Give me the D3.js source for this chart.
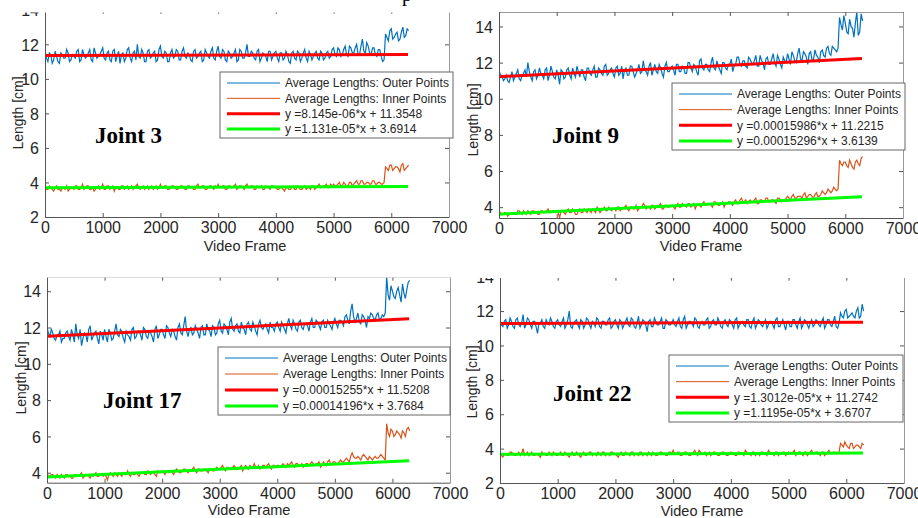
<!DOCTYPE html>
<html>
<head>
<meta charset="utf-8">
<script src="https://cdn.jsdelivr.net/npm/d3@7"></script>
<style>
body{margin:0;background:#fff}
svg{display:block}
</style>
</head>
<body>
<script>
//A arrays: frames 0,50,...,6300   B arrays: frames 25,75,...,6275
var framesA = d3.range(0, 6301, 50);
var framesB = d3.range(25, 6300, 50);

//Joint 3
var j3Outer = [11.7,11.0,11.4,11.1,11.3,10.9,11.4,11.2,11.5,11.1,11.3,11.6,11.0,11.7,11.2,11.5,11.1,11.8,11.2,11.4,
  11.8,11.1,11.6,11.0,11.7,11.3,10.9,11.5,11.2,11.8,11.0,11.6,12.0,11.2,11.5,11.0,11.7,11.3,11.6,11.1,
  11.9,11.2,11.5,11.0,11.7,11.3,11.6,11.1,11.8,11.2,11.4,11.0,11.7,11.3,11.6,11.1,11.5,11.2,11.8,11.1,
  11.9,11.2,11.6,11.0,11.5,11.3,11.7,11.1,11.6,11.2,12.0,11.3,11.5,11.1,11.7,11.2,11.4,11.0,11.6,11.3,
  11.6,11.0,11.5,11.2,11.4,10.9,11.6,11.1,11.5,11.2,11.7,11.0,11.4,11.3,11.6,11.1,11.5,11.2,11.6,11.3,
  11.8,11.3,11.7,11.4,11.9,11.3,11.8,11.5,12.0,11.4,12.3,11.5,11.9,11.4,11.8,11.3,11.7,11.0,
  12.6,12.2,12.9,12.4,12.7,12.3,13.0,12.5,12.8];
var j3OuterB = [11.2,11.5,10.9,11.6,11.0,11.5,11.2,11.7,11.0,11.4,11.2,11.7,11.1,11.4,11.3,11.7,11.0,11.5,11.3,11.6,
  11.2,11.5,11.1,11.6,11.0,11.6,11.4,11.0,11.7,11.2,11.5,11.1,11.3,11.7,11.0,11.6,11.2,11.5,11.0,11.7,
  11.3,11.6,11.0,11.5,11.2,11.7,11.1,11.6,11.3,11.5,11.1,11.6,11.2,11.5,11.0,11.7,11.3,11.6,11.2,11.6,
  11.3,11.7,11.1,11.6,11.2,11.5,11.0,11.7,11.2,11.5,11.3,11.6,11.2,11.6,11.0,11.5,11.3,11.6,11.1,11.5,
  11.2,11.5,11.1,11.6,11.0,11.5,11.2,11.6,11.0,11.5,11.2,11.6,11.1,11.5,11.2,11.6,11.1,11.5,11.2,11.7,
  11.4,11.8,11.3,11.7,11.4,11.9,11.5,11.8,11.4,11.9,11.6,12.1,11.5,11.8,11.4,11.7,11.3,11.1,
  12.4,12.8,12.3,12.6,12.2,12.7,12.4,12.9];
var j3Inner = [3.9,3.6,3.7,3.5,3.8,3.6,3.7,3.6,3.5,3.7,3.6,3.8,3.6,3.9,3.7,3.8,3.6,3.5,3.7,3.6,
  3.9,3.6,3.8,3.7,3.5,3.7,3.6,3.8,3.7,3.6,3.8,3.7,3.9,3.6,3.8,3.7,3.6,3.8,3.7,3.6,
  3.9,3.7,3.8,3.6,3.8,3.7,3.6,3.8,3.7,3.6,3.8,3.7,3.6,3.9,3.7,3.8,3.6,3.8,3.7,3.8,
  3.9,3.7,3.8,3.6,3.8,3.7,3.9,3.7,3.8,3.6,3.9,3.7,3.8,3.6,3.7,3.8,3.6,3.7,3.6,3.8,
  3.7,3.6,3.7,3.5,3.7,3.6,3.8,3.6,3.7,3.6,3.8,3.7,3.6,3.8,3.7,3.9,3.7,3.8,3.7,3.9,
  3.9,3.8,4.0,3.8,3.9,3.8,4.0,3.9,4.1,3.9,4.1,3.9,4.0,3.9,4.1,3.9,4.0,3.9,
  4.9,4.7,5.0,4.8,4.9,4.6,5.1,4.8,5.0];
var j3InnerB = [3.6,3.8,3.6,3.7,3.6,3.5,3.7,3.8,3.6,3.7,3.8,3.6,3.7,3.6,3.8,3.6,3.7,3.6,3.8,3.7,
  3.6,3.8,3.6,3.8,3.7,3.6,3.8,3.6,3.8,3.7,3.6,3.8,3.7,3.7,3.6,3.8,3.7,3.6,3.8,3.7,
  3.7,3.8,3.6,3.7,3.8,3.6,3.7,3.8,3.6,3.8,3.7,3.6,3.8,3.7,3.8,3.6,3.7,3.8,3.6,3.7,
  3.7,3.8,3.6,3.8,3.7,3.8,3.6,3.8,3.7,3.8,3.7,3.8,3.6,3.8,3.7,3.6,3.8,3.7,3.8,3.7,
  3.6,3.7,3.6,3.7,3.6,3.7,3.6,3.8,3.6,3.7,3.6,3.7,3.8,3.6,3.8,3.7,3.8,3.9,3.7,3.8,
  3.8,3.9,3.8,4.0,3.8,4.0,3.8,4.0,3.9,4.1,3.9,4.0,3.9,4.1,3.9,4.0,3.9,4.0,
  4.8,5.0,4.7,4.9,4.8,5.0,4.7,4.9];

//Joint 9
var j9Outer = [11.6,11.3,11.1,11.0,11.2,11.0,11.4,11.1,11.3,11.6,12.0,11.2,11.5,11.1,11.7,11.3,11.6,11.0,11.8,11.2,
  11.6,10.8,11.5,11.2,11.7,11.1,11.4,11.8,11.2,11.6,11.0,11.7,11.3,11.8,11.2,11.6,11.3,11.9,11.4,11.7,
  11.2,11.8,11.4,11.1,11.7,11.3,11.8,11.2,11.6,11.4,12.1,11.5,11.8,11.3,11.9,11.4,11.7,11.2,12.0,11.5,
  11.8,11.3,11.9,11.5,11.7,11.4,12.0,11.5,11.8,11.3,12.2,11.6,11.9,11.5,12.3,11.6,11.8,11.4,12.0,11.6,
  11.9,11.5,11.9,12.3,11.8,12.1,11.7,12.2,11.9,12.4,11.8,12.1,11.6,12.3,11.9,12.5,11.8,12.2,11.7,12.1,
  12.5,11.9,12.4,12.0,12.8,12.1,12.5,11.9,12.6,12.2,12.4,12.0,12.7,12.3,12.9,12.4,12.8,12.6,
  14.5,13.8,14.2,13.6,14.0,13.4,14.8,13.7,14.3];
var j9OuterB = [11.3,11.0,11.3,10.9,11.5,11.2,11.6,11.0,11.4,11.2,11.5,11.0,11.6,11.3,11.4,11.1,11.7,11.3,11.5,11.1,
  11.3,11.6,11.1,11.6,11.3,11.7,11.2,11.5,11.6,11.2,11.7,11.4,11.6,11.2,11.7,11.4,11.8,11.3,11.6,11.4,
  11.7,11.3,11.8,11.6,11.3,11.8,11.5,11.4,11.9,11.5,11.6,11.3,12.0,11.6,11.5,11.9,11.4,11.8,11.5,11.7,
  11.6,11.9,11.5,11.8,11.4,12.0,11.7,11.9,11.5,12.1,11.7,11.9,11.6,12.0,11.7,12.1,11.6,12.0,11.7,11.9,
  12.2,11.8,12.3,11.9,12.1,11.8,12.3,12.0,12.1,11.8,12.4,12.0,12.2,11.9,12.2,12.0,12.4,11.9,12.3,12.0,
  12.2,12.6,12.1,12.5,12.2,12.6,12.3,12.5,12.1,12.7,12.3,12.6,12.4,12.8,12.5,12.9,12.7,12.8,
  14.1,14.6,13.7,14.4,13.9,14.2,13.5,14.7];
var j9Inner = [3.8,3.6,3.7,3.5,3.6,3.7,3.6,3.8,3.6,3.7,3.8,3.6,3.8,3.7,3.6,3.8,3.7,3.9,3.7,3.8,
  3.8,3.4,3.8,3.6,3.9,3.7,3.8,3.6,3.9,3.7,3.8,3.9,3.7,3.8,4.0,3.7,3.9,3.8,4.0,3.8,
  3.9,4.0,3.8,3.9,4.1,3.8,4.0,3.9,3.8,4.0,4.2,3.9,4.0,4.1,3.9,4.0,4.2,3.9,4.1,4.0,
  4.1,3.9,4.2,4.0,4.1,4.0,4.2,4.1,3.9,4.2,4.0,4.3,4.1,4.2,4.0,4.3,4.1,4.2,4.0,4.2,
  4.3,4.1,4.4,4.2,4.5,4.3,4.2,4.4,4.3,4.5,4.2,4.4,4.3,4.5,4.3,4.4,4.2,4.5,4.3,4.4,
  4.6,4.4,4.7,4.5,4.6,4.5,4.8,4.6,4.7,4.5,4.8,4.6,4.9,4.7,5.0,4.8,5.1,4.9,
  6.6,6.3,6.5,6.2,6.4,6.1,6.6,6.3,6.8];
var j9InnerB = [3.7,3.6,3.7,3.6,3.7,3.6,3.8,3.7,3.8,3.6,3.7,3.8,3.7,3.6,3.8,3.7,3.8,3.7,3.8,3.7,
  3.7,3.8,3.7,3.8,3.7,3.9,3.6,3.8,3.7,3.9,3.7,3.8,3.9,3.7,3.9,3.8,4.0,3.8,3.9,3.9,
  3.8,4.0,3.9,4.0,3.9,4.0,3.9,4.1,3.9,4.0,4.1,4.0,3.9,4.1,4.0,4.1,3.9,4.1,4.0,4.1,
  4.0,4.1,4.0,4.2,4.1,4.2,4.0,4.2,4.1,4.1,4.2,4.1,4.2,4.1,4.3,4.2,4.1,4.3,4.2,4.3,
  4.2,4.3,4.2,4.4,4.3,4.4,4.3,4.3,4.4,4.2,4.4,4.3,4.5,4.3,4.4,4.3,4.5,4.4,4.4,4.5,
  4.5,4.6,4.5,4.6,4.6,4.7,4.5,4.7,4.6,4.7,4.6,4.7,4.8,4.8,4.9,4.9,5.0,5.0,
  6.4,6.5,6.3,6.6,6.2,6.5,6.4,6.7];

//Joint 17
var j17Outer = [12.0,11.5,11.7,11.3,11.6,11.2,11.4,11.8,11.3,11.6,12.2,11.4,11.0,11.7,11.2,12.1,11.5,11.8,11.1,11.6,
  11.9,11.2,11.7,11.4,12.2,11.5,11.8,11.2,11.6,11.3,12.0,11.5,11.8,11.3,11.9,11.4,11.7,11.2,12.1,11.6,
  11.9,11.4,12.0,11.5,11.8,11.3,12.2,11.6,12.6,11.5,12.0,11.7,11.9,11.4,12.1,11.6,11.9,11.5,12.0,11.7,
  12.4,11.7,12.1,11.6,12.5,11.8,12.2,11.7,12.0,11.6,12.3,11.8,12.1,11.6,12.4,11.9,12.2,11.7,12.0,11.8,
  12.3,11.8,12.1,11.7,12.5,11.9,12.2,11.8,12.4,11.9,12.2,11.8,12.5,12.0,12.3,11.9,12.4,12.0,12.2,11.9,
  12.5,12.0,12.4,12.1,12.7,12.2,13.3,12.3,12.8,12.2,12.6,12.0,12.5,12.7,12.4,12.8,12.5,12.6,
  14.8,13.5,14.0,13.6,14.2,13.4,13.9,14.1,14.6];
var j17OuterB = [11.7,11.9,11.4,11.6,11.8,11.4,11.7,11.5,11.9,11.2,11.6,11.9,11.4,11.6,11.9,11.3,11.7,11.4,11.8,11.3,
  11.5,11.9,11.3,11.8,11.6,11.9,11.4,11.8,11.5,11.9,11.4,11.8,11.6,12.0,11.5,11.8,11.5,11.9,11.4,11.9,
  11.6,12.1,11.7,11.9,11.5,12.0,11.7,12.1,11.8,11.9,11.6,12.1,11.7,12.0,11.6,12.2,11.8,12.1,11.6,12.2,
  11.8,12.2,11.9,12.3,11.9,12.1,11.8,12.3,11.9,12.2,11.9,12.3,11.8,12.2,12.0,12.1,11.9,12.3,12.0,12.2,
  12.0,12.3,11.9,12.2,12.1,12.4,11.9,12.3,12.0,12.2,12.1,12.3,12.0,12.4,12.1,12.3,12.0,12.4,12.1,12.3,
  12.2,12.4,12.3,12.6,12.4,12.9,12.6,12.5,12.3,12.7,12.4,12.6,12.8,12.5,12.7,12.4,12.7,12.8,
  13.8,14.3,13.7,14.0,13.8,14.4,13.6,14.5];
var j17Inner = [4.0,3.8,3.9,3.7,3.8,3.9,3.7,3.9,3.8,3.7,3.9,3.8,4.0,3.8,3.9,3.7,3.8,4.0,3.8,3.9,
  3.9,3.6,4.0,3.8,3.9,4.0,3.8,3.9,4.1,3.8,3.9,4.0,3.8,4.0,3.9,4.1,3.9,4.0,3.8,4.0,
  4.1,3.9,4.0,4.1,3.9,4.2,4.0,4.1,4.2,4.0,4.1,4.3,4.0,4.2,4.1,4.2,4.0,4.2,4.1,4.3,
  4.2,4.4,4.1,4.3,4.2,4.4,4.2,4.3,4.1,4.4,4.2,4.3,4.5,4.3,4.2,4.4,4.3,4.5,4.2,4.4,
  4.4,4.3,4.5,4.3,4.4,4.6,4.3,4.5,4.4,4.3,4.5,4.4,4.6,4.4,4.5,4.3,4.6,4.4,4.7,4.5,
  4.6,4.5,4.7,4.6,4.8,4.6,5.1,4.8,4.9,4.7,5.0,4.8,4.9,4.7,4.9,4.8,5.0,4.8,
  6.7,6.0,6.3,6.1,6.2,5.9,6.2,6.4,6.3];
var j17InnerB = [3.8,3.9,3.8,3.9,3.7,3.8,3.9,3.8,3.7,3.9,3.8,3.9,3.7,3.9,3.8,3.9,3.9,3.8,3.9,3.8,
  3.8,3.9,3.9,4.0,3.8,3.9,4.0,3.9,3.9,4.0,3.9,3.9,4.0,4.0,3.9,4.0,4.0,3.9,4.1,4.0,
  4.0,4.1,4.0,4.0,4.1,4.1,4.0,4.2,4.1,4.1,4.2,4.1,4.2,4.1,4.2,4.1,4.2,4.1,4.2,4.2,
  4.3,4.2,4.3,4.2,4.3,4.3,4.2,4.4,4.3,4.3,4.4,4.3,4.3,4.4,4.3,4.4,4.4,4.3,4.4,4.3,
  4.4,4.4,4.4,4.5,4.5,4.4,4.5,4.4,4.5,4.4,4.5,4.5,4.5,4.5,4.6,4.4,4.5,4.6,4.5,4.6,
  4.5,4.6,4.6,4.7,4.7,4.9,4.9,4.8,4.8,4.9,4.9,4.7,4.8,4.8,4.8,4.9,4.9,4.7,
  6.2,6.4,6.0,6.3,6.1,6.3,6.0,6.5];

//Joint 22
var j22Outer = [11.3,11.1,11.5,11.2,11.4,11.0,11.6,11.1,11.8,11.2,11.5,11.0,11.4,10.7,11.3,11.1,11.5,11.2,11.4,11.0,
  11.5,11.1,11.6,11.2,12.0,11.0,11.4,11.2,11.5,11.0,11.6,11.2,11.4,11.1,11.5,11.0,11.4,11.2,11.6,11.1,
  11.5,11.0,11.4,11.2,11.6,11.1,11.5,11.0,11.7,11.2,11.4,10.8,11.5,11.1,11.4,11.2,11.6,11.0,11.4,11.2,
  11.5,11.1,11.6,11.0,11.7,11.2,11.4,11.1,11.5,11.0,11.4,11.2,11.6,11.1,11.5,11.2,11.4,11.0,11.5,11.1,
  11.4,11.0,11.6,11.2,11.4,11.1,11.5,11.0,11.6,11.2,11.4,11.1,11.5,11.2,11.4,11.0,11.6,11.1,11.5,10.9,
  11.4,11.1,11.5,11.0,11.6,11.2,11.4,11.0,11.5,11.2,11.4,11.1,11.6,11.2,11.5,11.1,11.7,11.0,
  11.9,11.6,12.1,11.7,11.9,11.6,12.2,11.7,12.0];
var j22OuterB = [11.2,11.4,11.0,11.6,11.1,11.5,11.2,11.3,11.0,11.6,11.2,11.4,11.1,11.3,11.5,11.0,11.3,11.6,11.1,11.4,
  11.2,11.4,11.0,11.5,11.1,11.3,11.5,11.0,11.4,11.2,11.5,11.0,11.3,11.6,11.1,11.4,11.2,11.5,11.0,11.4,
  11.2,11.5,11.0,11.4,11.2,11.6,11.1,11.3,11.0,11.5,11.2,11.4,11.1,11.6,11.2,11.4,11.0,11.5,11.2,11.3,
  11.2,11.4,11.1,11.5,11.0,11.4,11.3,11.6,11.1,11.3,11.2,11.5,11.0,11.4,11.2,11.6,11.1,11.4,11.2,11.5,
  11.2,11.5,11.0,11.3,11.2,11.5,11.1,11.4,11.0,11.5,11.2,11.3,11.0,11.4,11.2,11.5,11.1,11.3,11.2,11.4,
  11.1,11.5,11.2,11.4,11.0,11.5,11.2,11.3,11.1,11.5,11.2,11.4,11.0,11.5,11.2,11.4,11.1,11.3,
  11.7,12.0,11.6,11.8,11.7,12.0,11.6,12.4];
var j22Inner = [3.8,3.5,3.7,3.6,3.8,3.6,3.7,3.6,4.0,3.7,3.6,3.8,3.6,3.7,3.5,3.7,3.6,3.8,3.6,3.7,
  3.6,3.8,3.6,3.7,3.5,3.8,3.6,3.7,3.5,3.8,3.6,3.8,3.6,3.7,3.8,3.6,3.8,3.7,3.6,3.8,
  3.7,3.5,3.8,3.6,3.7,3.6,3.8,3.7,3.6,3.8,3.7,3.6,3.7,3.8,3.6,3.7,3.8,3.7,3.6,3.8,
  3.9,3.7,3.8,3.6,3.8,3.7,3.6,3.8,3.7,3.9,3.7,3.8,3.7,3.6,3.8,3.7,3.6,3.8,3.7,3.6,
  3.8,3.7,3.6,3.8,3.7,3.9,3.7,3.6,3.8,3.7,3.6,3.8,3.7,3.9,3.7,3.6,3.8,3.7,3.8,3.6,
  3.8,3.7,3.9,3.7,3.8,3.6,3.8,3.7,3.9,3.7,3.8,3.6,3.8,3.7,3.9,3.7,3.8,3.7,
  4.3,4.1,4.2,4.0,4.3,4.1,4.2,4.0,4.2];
var j22InnerB = [3.6,3.7,3.6,3.8,3.7,3.6,3.8,3.7,3.6,3.8,3.7,3.6,3.7,3.6,3.8,3.7,3.6,3.7,3.8,3.6,
  3.7,3.6,3.8,3.6,3.7,3.6,3.8,3.6,3.7,3.6,3.7,3.8,3.7,3.6,3.7,3.8,3.6,3.7,3.8,3.7,
  3.6,3.7,3.6,3.8,3.7,3.8,3.6,3.7,3.8,3.6,3.7,3.8,3.6,3.7,3.6,3.8,3.7,3.6,3.8,3.7,
  3.7,3.8,3.6,3.7,3.8,3.6,3.7,3.9,3.6,3.8,3.7,3.6,3.8,3.7,3.8,3.6,3.7,3.8,3.6,3.7,
  3.7,3.6,3.8,3.7,3.6,3.8,3.7,3.8,3.6,3.7,3.8,3.7,3.6,3.8,3.7,3.8,3.6,3.7,3.8,3.7,
  3.7,3.8,3.6,3.8,3.7,3.8,3.6,3.8,3.7,3.8,3.7,3.8,3.6,3.8,3.7,3.8,3.7,3.8,
  4.2,4.4,4.1,4.3,4.0,4.2,4.1,4.3];

var jointNames = ["Joint 3", "Joint 9", "Joint 17", "Joint 22"];
var outerA = [j3Outer, j9Outer, j17Outer, j22Outer];
var outerB = [j3OuterB, j9OuterB, j17OuterB, j22OuterB];
var innerA = [j3Inner, j9Inner, j17Inner, j22Inner];
var innerB = [j3InnerB, j9InnerB, j17InnerB, j22InnerB];
var slopeOuter = [8.145e-06, 0.00015986, 0.00015255, 1.3012e-05];
var interceptOuter = [11.3548, 11.2215, 11.5208, 11.2742];
var slopeInner = [1.131e-05, 0.00015296, 0.00014196, 1.1195e-05];
var interceptInner = [3.6914, 3.6139, 3.7684, 3.6707];
var fitTextOuter = ["y =8.145e-06*x + 11.3548", "y =0.00015986*x + 11.2215", "y =0.00015255*x + 11.5208", "y =1.3012e-05*x + 11.2742"];
var fitTextInner = ["y =1.131e-05*x + 3.6914", "y =0.00015296*x + 3.6139", "y =0.00014196*x + 3.7684", "y =1.1195e-05*x + 3.6707"];
var legendNames = ["Average Lengths: Outer Points", "Average Lengths: Inner Points"];
var fitFrames = [0, 6290];
var xTicks = [0, 1000, 2000, 3000, 4000, 5000, 6000, 7000];
var yTicks = [2, 4, 6, 8, 10, 12, 14];
var yDomains = [[2, 14], [3.4, 14.8], [3.45, 14.8], [2, 14]];

var colors = {outer: "#0072BD", inner: "#D95319", fitOuter: "#FF0000", fitInner: "#00FF00"};

//put the two samplings back in frame order
function series(a, b){
  var pts = [];
  a.forEach(function(v, k){
    pts.push([framesA[k], v]);
    if (k < b.length) pts.push([framesB[k], b[k]]);
  });
  return pts;
}

//where each subplot sits on the page
var layout = [
  {left: 45, right: 449, top: 9.8, bottom: 217, mask: 12.5,
   leg: {x: 220, y: 72, w: 233, h: 66}, joint: [95, 143], ylab: [18, 113], xlab: [245, 246]},
  {left: 499, right: 903, top: 12, bottom: 218, mask: null,
   leg: {x: 672, y: 83, w: 233, h: 67}, joint: [552, 143], ylab: [473, 120], xlab: [701, 246]},
  {left: 47, right: 450, top: 276.7, bottom: 482.7, mask: 277.5,
   leg: {x: 218, y: 347, w: 232, h: 68}, joint: [103, 408], ylab: [21, 378], xlab: [249, 510]},
  {left: 500, right: 904, top: 276.7, bottom: 483, mask: 278,
   leg: {x: 669, y: 355, w: 234, h: 67}, joint: [553, 401], ylab: [472, 382], xlab: [702, 511]}
];

var svg = d3.select("body").append("svg")
  .attr("width", 918)
  .attr("height", 518)
  .style("font-family", "'Liberation Sans', Arial, sans-serif");

function drawPanel(i){
  var L = layout[i];
  var x = d3.scaleLinear().domain([0, 7000]).range([L.left, L.right]);
  var y = d3.scaleLinear().domain(yDomains[i]).range([L.bottom, L.top]);
  var g = svg.append("g");

  g.append("clipPath").attr("id", "clip" + i)
    .append("rect")
    .attr("x", L.left).attr("y", L.top)
    .attr("width", L.right - L.left).attr("height", L.bottom - L.top);

  var plot = g.append("g").attr("clip-path", "url(#clip" + i + ")");
  var line = d3.line().x(function(d){ return x(d[0]); }).y(function(d){ return y(d[1]); });

  plot.append("path").datum(series(outerA[i], outerB[i]))
    .attr("d", line).attr("fill", "none")
    .attr("stroke", colors.outer).attr("stroke-width", 1.2);
  plot.append("path").datum(series(innerA[i], innerB[i]))
    .attr("d", line).attr("fill", "none")
    .attr("stroke", colors.inner).attr("stroke-width", 1.2);

  //fitted lines from the legend equations
  var fit = function(m, b){
    return d3.line().x(function(f){ return x(f); }).y(function(f){ return y(m * f + b); })(fitFrames);
  };
  plot.append("path").attr("d", fit(slopeOuter[i], interceptOuter[i]))
    .attr("stroke", colors.fitOuter).attr("stroke-width", 3).attr("fill", "none");
  plot.append("path").attr("d", fit(slopeInner[i], interceptInner[i]))
    .attr("stroke", colors.fitInner).attr("stroke-width", 3).attr("fill", "none");

  //box + ticks, matlab style (ticks inside)
  var yt = yTicks.filter(function(t){ return t >= yDomains[i][0] && t <= yDomains[i][1] + 0.01; });
  var bottomAxis = d3.axisBottom(x).tickValues(xTicks).tickFormat(d3.format("d"))
    .tickSizeInner(-4).tickSizeOuter(0).tickPadding(5);
  var leftAxis = d3.axisLeft(y).tickValues(yt).tickFormat(d3.format("d"))
    .tickSizeInner(-4).tickSizeOuter(0).tickPadding(6);
  var topAxis = d3.axisTop(x).tickValues(xTicks).tickSizeInner(-4).tickSizeOuter(0).tickFormat("");
  var rightAxis = d3.axisRight(y).tickValues(yt).tickSizeInner(-4).tickSizeOuter(0).tickFormat("");

  var axes = [
    g.append("g").attr("transform", "translate(0," + L.bottom + ")").call(bottomAxis),
    g.append("g").attr("transform", "translate(" + L.left + ",0)").call(leftAxis),
    g.append("g").attr("transform", "translate(0," + L.top + ")").call(topAxis),
    g.append("g").attr("transform", "translate(" + L.right + ",0)").call(rightAxis)
  ];
  axes.forEach(function(a, k){
    a.select(".domain").attr("stroke", k < 2 ? "#555" : "#999");
    a.selectAll(".tick line").attr("stroke", "#555");
    a.selectAll(".tick text").attr("fill", "#262626")
      .style("font-size", "16px").style("font-family", "'Liberation Sans', Arial, sans-serif");
  });
  axes[1].selectAll(".tick text").attr("dy", "0.36em");

  g.append("text")
    .attr("transform", "translate(" + L.ylab[0] + "," + L.ylab[1] + ") rotate(-90)")
    .attr("text-anchor", "middle").attr("dy", "0.35em")
    .style("font-size", "14px").attr("fill", "#262626")
    .text("Length [cm]");
  g.append("text")
    .attr("x", L.xlab[0]).attr("y", L.xlab[1])
    .attr("text-anchor", "middle").attr("dy", "0.35em")
    .style("font-size", "14.5px").attr("fill", "#262626")
    .text("Video Frame");

  //legend
  var lg = g.append("g");
  lg.append("rect")
    .attr("x", L.leg.x).attr("y", L.leg.y).attr("width", L.leg.w).attr("height", L.leg.h)
    .attr("fill", "#fff").attr("stroke", "#666").attr("stroke-width", 1);
  var entries = [
    {text: legendNames[0], color: colors.outer, w: 1},
    {text: legendNames[1], color: colors.inner, w: 1},
    {text: fitTextOuter[i], color: colors.fitOuter, w: 3},
    {text: fitTextInner[i], color: colors.fitInner, w: 3}
  ];
  var rowH = (L.leg.h - 20) / 3;
  entries.forEach(function(e, k){
    var ry = L.leg.y + 11 + k * rowH;
    lg.append("line")
      .attr("x1", L.leg.x + 7).attr("x2", L.leg.x + 60)
      .attr("y1", ry).attr("y2", ry)
      .attr("stroke", e.color).attr("stroke-width", e.w);
    lg.append("text")
      .attr("x", L.leg.x + 65).attr("y", ry).attr("dy", "0.35em")
      .style("font-size", "12px").attr("fill", "#262626")
      .text(e.text);
  });

  g.append("text")
    .attr("x", L.joint[0]).attr("y", L.joint[1])
    .style("font-family", "'Liberation Serif', 'Times New Roman', serif")
    .style("font-weight", "bold").style("font-size", "23px")
    .attr("fill", "#000")
    .text(jointNames[i]);

  //page above the plot is cut off in the source
  if (L.mask !== null){
    var my = i < 2 ? 0 : 255;
    svg.append("rect")
      .attr("x", L.left - 40).attr("y", my)
      .attr("width", L.right - L.left + 52).attr("height", L.mask - my)
      .attr("fill", "#fff");
  }
}

for (var i = 0; i < 4; i++) drawPanel(i);

//clipped caption letter at the top edge
svg.append("text")
  .attr("x", 402).attr("y", 1)
  .style("font-family", "'Liberation Serif', 'Times New Roman', serif")
  .style("font-size", "20px").attr("fill", "#000")
  .text("p");
</script>
</body>
</html>
